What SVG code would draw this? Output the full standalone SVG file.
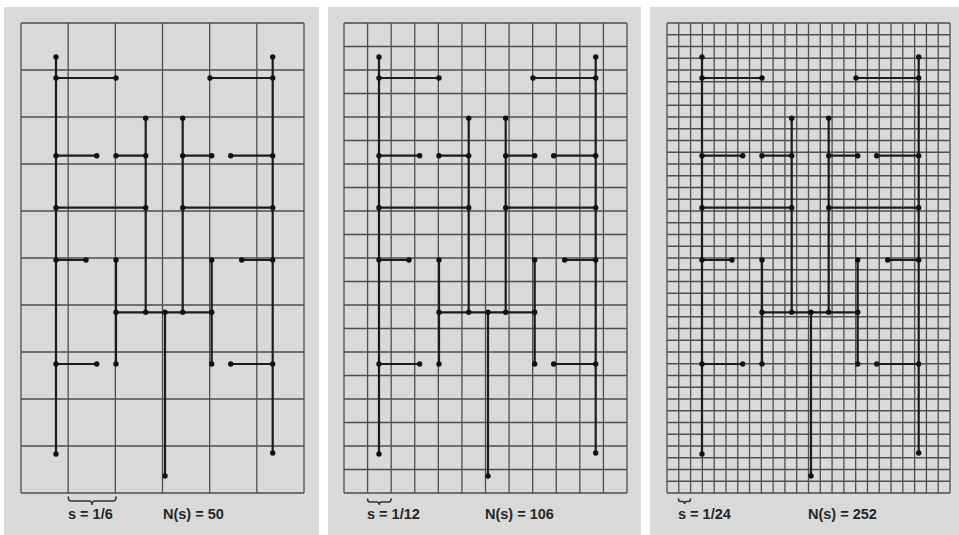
<svg xmlns="http://www.w3.org/2000/svg" xmlns:xlink="http://www.w3.org/1999/xlink" width="959" height="535" viewBox="0 0 959 535">
<style>
.bg{fill:#d9d9d9}
.grid{fill:none;stroke:#4e4e4e;stroke-width:1.3}
.tl{fill:none;stroke:#1c1c1c;stroke-width:2.2;stroke-linecap:butt}
.dot{fill:#111}
.brace{fill:none;stroke:#333;stroke-width:1.6;stroke-linecap:round}
.lbl{font-family:"Liberation Sans",Arial,sans-serif;font-weight:bold;font-size:14.5px;fill:#262626}
</style>
<defs>
<g id="tree">
<path class="tl" d="M56 57V454M272.7 57V453M56 78H116M210 78H272.7M145.7 118.3V312.3M182.7 118.3V312.3M56 155.7H96.7M116 155.7H145.7M182.7 155.7H211.7M230.7 155.7H272.7M56 207.7H145.7M182.7 207.7H272.7M56 260H86M241.7 260H272.7M116 260V364M211.7 260V364M116 312.3H211.7M165 312.3V476M56 364H96.7M230.7 364H272.7"/>
<g class="dot">
<circle cx="56" cy="57" r="2.7"/><circle cx="272.7" cy="57" r="2.7"/>
<circle cx="56" cy="78" r="2.7"/><circle cx="116" cy="78" r="2.7"/><circle cx="210" cy="78" r="2.7"/><circle cx="272.7" cy="78" r="2.7"/>
<circle cx="145.7" cy="118.3" r="2.7"/><circle cx="182.7" cy="118.3" r="2.7"/>
<circle cx="56" cy="155.7" r="2.7"/><circle cx="96.7" cy="155.7" r="2.7"/><circle cx="116" cy="155.7" r="2.7"/><circle cx="145.7" cy="155.7" r="2.7"/><circle cx="182.7" cy="155.7" r="2.7"/><circle cx="211.7" cy="155.7" r="2.7"/><circle cx="230.7" cy="155.7" r="2.7"/><circle cx="272.7" cy="155.7" r="2.7"/>
<circle cx="56" cy="207.7" r="2.7"/><circle cx="145.7" cy="207.7" r="2.7"/><circle cx="182.7" cy="207.7" r="2.7"/><circle cx="272.7" cy="207.7" r="2.7"/>
<circle cx="56" cy="260" r="2.7"/><circle cx="86" cy="260" r="2.7"/><circle cx="116" cy="260" r="2.7"/><circle cx="211.7" cy="260" r="2.7"/><circle cx="241.7" cy="260" r="2.7"/><circle cx="272.7" cy="260" r="2.7"/>
<circle cx="116" cy="312.3" r="2.7"/><circle cx="145.7" cy="312.3" r="2.7"/><circle cx="165" cy="312.3" r="2.7"/><circle cx="182.7" cy="312.3" r="2.7"/><circle cx="211.7" cy="312.3" r="2.7"/>
<circle cx="56" cy="364" r="2.7"/><circle cx="96.7" cy="364" r="2.7"/><circle cx="116" cy="364" r="2.7"/><circle cx="211.7" cy="364" r="2.7"/><circle cx="230.7" cy="364" r="2.7"/><circle cx="272.7" cy="364" r="2.7"/>
<circle cx="56" cy="454" r="2.7"/><circle cx="272.7" cy="453" r="2.7"/><circle cx="165" cy="476" r="2.7"/>
</g>
</g>
</defs>
<rect width="959" height="535" fill="#ffffff"/>

<g id="panel1">
<rect class="bg" x="4" y="7" width="315" height="528"/>
<path class="grid" d="M21 23V493M68.17 23V493M115.33 23V493M162.5 23V493M209.67 23V493M256.83 23V493M304 23V493M21 23H304M21 70H304M21 117H304M21 164H304M21 211H304M21 258H304M21 305H304M21 352H304M21 399H304M21 446H304M21 493H304"/>
<use xlink:href="#tree" href="#tree"/>
<path class="brace" d="M68.3 497Q68.3 501 71.3 501H89Q92 501 92 505Q92 501 95 501H113Q116 501 116 497"/>
<text class="lbl" x="68" y="519">s = 1/6</text>
<text class="lbl" x="163" y="519">N(s) = 50</text>
</g>

<g id="panel2">
<rect class="bg" x="328" y="7" width="313" height="528"/>
<path class="grid" d="M344 23V493M367.58 23V493M391.17 23V493M414.75 23V493M438.33 23V493M461.92 23V493M485.5 23V493M509.08 23V493M532.67 23V493M556.25 23V493M579.83 23V493M603.42 23V493M627 23V493M344 23H627M344 46.5H627M344 70H627M344 93.5H627M344 117H627M344 140.5H627M344 164H627M344 187.5H627M344 211H627M344 234.5H627M344 258H627M344 281.5H627M344 305H627M344 328.5H627M344 352H627M344 375.5H627M344 399H627M344 422.5H627M344 446H627M344 469.5H627M344 493H627"/>
<use xlink:href="#tree" href="#tree" transform="translate(323,0)"/>
<path class="brace" d="M367.6 499Q367.6 502 370 502H377Q379.3 502 379.3 505Q379.3 502 381.6 502H388.6Q391 502 391 499"/>
<text class="lbl" x="367" y="519">s = 1/12</text>
<text class="lbl" x="485" y="519">N(s) = 106</text>
</g>

<g id="panel3">
<rect class="bg" x="650" y="7" width="309" height="528"/>
<path class="grid" d="M667 23V493M678.79 23V493M690.58 23V493M702.38 23V493M714.17 23V493M725.96 23V493M737.75 23V493M749.54 23V493M761.33 23V493M773.13 23V493M784.92 23V493M796.71 23V493M808.5 23V493M820.29 23V493M832.08 23V493M843.88 23V493M855.67 23V493M867.46 23V493M879.25 23V493M891.04 23V493M902.83 23V493M914.63 23V493M926.42 23V493M938.21 23V493M950 23V493M667 23H950M667 34.75H950M667 46.5H950M667 58.25H950M667 70H950M667 81.75H950M667 93.5H950M667 105.25H950M667 117H950M667 128.75H950M667 140.5H950M667 152.25H950M667 164H950M667 175.75H950M667 187.5H950M667 199.25H950M667 211H950M667 222.75H950M667 234.5H950M667 246.25H950M667 258H950M667 269.75H950M667 281.5H950M667 293.25H950M667 305H950M667 316.75H950M667 328.5H950M667 340.25H950M667 352H950M667 363.75H950M667 375.5H950M667 387.25H950M667 399H950M667 410.75H950M667 422.5H950M667 434.25H950M667 446H950M667 457.75H950M667 469.5H950M667 481.25H950M667 493H950"/>
<use xlink:href="#tree" href="#tree" transform="translate(646,0)"/>
<path class="brace" d="M678.5 499Q678.5 501.5 680.5 501.5H682.5Q684.5 501.5 684.5 504Q684.5 501.5 686.5 501.5H688.5Q690.5 501.5 690.5 499"/>
<text class="lbl" x="678" y="519">s = 1/24</text>
<text class="lbl" x="808" y="519">N(s) = 252</text>
</g>
</svg>
